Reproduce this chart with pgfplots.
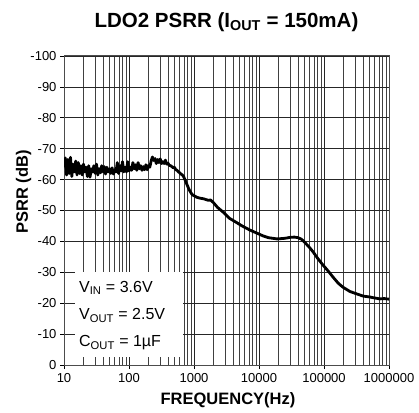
\documentclass[border=0pt]{standalone}
\usepackage{pgfplots}
\pgfplotsset{compat=1.18}
\usepackage{fontspec}
\setmainfont{Liberation Sans}

\pgfplotstableread{
f v
10 -64
10.47 -67
10.96 -61.5
11.48 -66.5
12.02 -62
12.59 -67.2
13.18 -61
13.80 -65
14.45 -62.5
15.14 -66
15.85 -61.5
16.60 -65.5
17.38 -62
18.20 -64.5
19.05 -61.5
19.95 -65
20.89 -62.5
21.88 -64
22.91 -61
23.99 -64.5
25.12 -60.8
26.30 -63.5
27.54 -62.5
28.84 -64.5
30.20 -62
31.62 -65
33.11 -61.5
34.67 -63.5
36.31 -62.2
38.02 -64.5
39.81 -62.5
41.69 -64.2
43.65 -61.8
45.71 -64
47.86 -62.5
50.12 -63.5
52.48 -62
54.95 -63.8
57.54 -61.8
60.26 -63.2
63.10 -62.5
66.07 -65.5
69.18 -62
72.44 -64.5
75.86 -62.8
79.43 -65.8
83.18 -62.5
87.10 -64
91.20 -62.5
95.50 -65.8
100 -62.8
104.7 -64
109.6 -63
114.8 -65.5
120.2 -63.5
125.9 -64.8
131.8 -63
138.0 -65.5
144.5 -63.5
151.4 -64.5
158.5 -63
166.0 -64.2
173.8 -63.2
182.0 -64.8
190.5 -63.2
199.5 -64.5
208.9 -64
218.8 -66
229.1 -67.3
239.9 -66.2
251.2 -66.8
263.0 -65.2
275.4 -66.5
288.4 -65.5
302.0 -66.7
316.2 -65.2
331.1 -65.8
346.7 -65.2
363.1 -66.3
380.2 -65
398.1 -65.3
416.9 -64.6
436.5 -64.5
457.1 -64.2
478.6 -63.8
501.2 -64
524.8 -63.2
549.5 -63
575.4 -62.5
602.6 -62.2
631.0 -61.8
660.7 -61.5
691.8 -61
724.4 -60
758.6 -59
794.3 -58
831.8 -57
871.0 -56.2
912.0 -55.5
955.0 -55
1000 -54.8
1100 -54.3
1230 -54
1400 -53.8
1660 -53.3
1800 -53.4
2000 -52.5
2300 -51
2800 -49.5
3500 -47.5
4600 -46
5500 -45
7200 -43.7
9000 -42.8
11500 -41.8
14000 -41.2
19000 -40.8
25000 -41
30000 -41.3
35000 -41.4
40000 -41.2
45000 -40.7
50000 -39.8
60000 -38
68000 -36.6
80000 -34.5
96000 -32.4
115000 -30.5
137000 -28.5
165000 -26.5
195000 -25.2
250000 -23.8
320000 -23
400000 -22.3
510000 -22
600000 -21.7
725000 -21.4
850000 -21.5
1000000 -21.3
}\psrr

\begin{document}
\begin{tikzpicture}
\useasboundingbox (0pt,0pt) rectangle (419pt,412pt);
\begin{axis}[
  at={(64pt,47pt)}, anchor=south west,
  scale only axis, width=325pt, height=309pt,
  xmode=log, xmin=10, xmax=1000000,
  ymin=-100, ymax=0, y dir=reverse,
  xtick={10,100,1000,10000,100000,1000000},
  xticklabels={10,100,1000,10000,100000,1000000},
  minor xtick={20,30,40,50,60,70,80,90,200,300,400,500,600,700,800,900,2000,3000,4000,5000,6000,7000,8000,9000,20000,30000,40000,50000,60000,70000,80000,90000,200000,300000,400000,500000,600000,700000,800000,900000},
  ytick={-100,-90,-80,-70,-60,-50,-40,-30,-20,-10,0},
  yticklabels={-100,-90,-80,-70,-60,-50,-40,-30,-20,-10,0},
  grid=both,
  major grid style={black!85, line width=0.75pt},
  minor grid style={black!75, line width=0.65pt},
  axis line style={black!70, line width=1pt},
  tick pos=left, tick align=outside,
  major tick length=4pt, minor tick length=0pt,
  tick style={black, line width=0.8pt},
  ticklabel style={font=\fontsize{13}{15}\selectfont},
  /pgf/number format/assume math mode=true,
  xticklabel style={yshift=-1pt},
]
\fill[white] (axis cs:14.8,-30.1) rectangle (axis cs:676,-2.6);
\addplot[black, line width=2.8pt, line join=round] table[x=f,y=v] {\psrr};
\node[anchor=base west, font=\fontsize{16}{18}\selectfont, inner sep=0pt] at (axis cs:17,-23.5) {V\textsubscript{IN} = 3.6V};
\node[anchor=base west, font=\fontsize{16}{18}\selectfont, inner sep=0pt] at (axis cs:17,-14.6) {V\textsubscript{OUT} = 2.5V};
\node[anchor=base west, font=\fontsize{16}{18}\selectfont, inner sep=0pt] at (axis cs:17,-5.9) {C\textsubscript{OUT} = 1µF};
\end{axis}
\node[font=\fontsize{20.5}{24}\selectfont\bfseries] at (226.5pt,390pt) {LDO2 PSRR (I\textsubscript{OUT} = 150mA)};
\node[font=\fontsize{16.5}{19}\selectfont\bfseries] at (228pt,12pt) {FREQUENCY(Hz)};
\node[font=\fontsize{16.5}{19}\selectfont\bfseries, rotate=90] at (23.5pt,220pt) {PSRR (dB)};
\end{tikzpicture}
\end{document}
